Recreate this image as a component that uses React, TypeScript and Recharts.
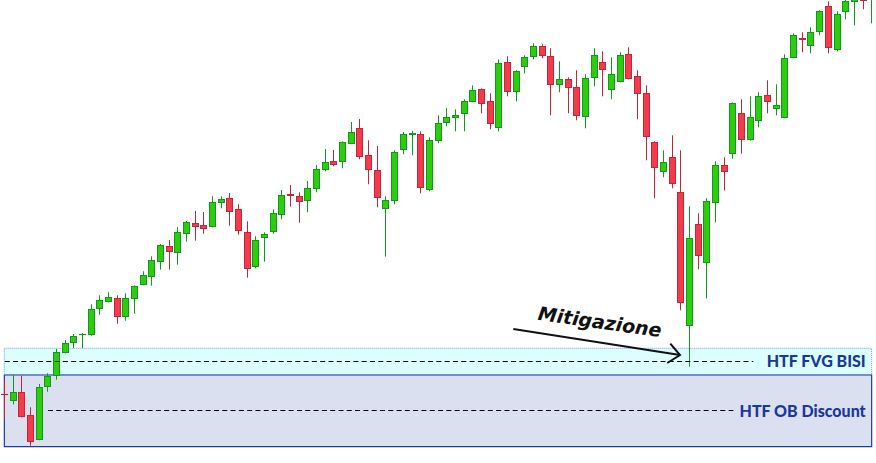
import React from 'react';
import {
  ComposedChart,
  Bar,
  XAxis,
  YAxis,
  ReferenceArea,
  ReferenceLine,
  ReferenceDot,
} from 'recharts';

// Candle values (price units), one entry per candle, left to right
const opens = [
  69, 61.7, 70.7, 47.7, 22.7, 75.7, 86.7, 109.7, 119.7, 128, 128.3, 153.7, 160.7, 164.7, 145.7, 163.7, 177.7, 185.7, 201.3, 216.7,
  210.3, 228.7, 239.7, 237.7, 235.7, 259.7, 264.7, 253.7, 230.7, 195.7, 224.7, 230.7, 247.7, 268.7, 266.7, 261.7, 273.7, 292.7, 301.7, 300.7,
  318.7, 334.7, 307.7, 292.7, 253.7, 261.7, 312.7, 327.7, 328.7, 272.7, 321.7, 339.7, 344.7, 348.7, 360.7, 373.7, 361.7, 334.7, 400.7, 370.7,
  395.7, 405.7, 416.7, 406.7, 377.7, 383.7, 375.7, 345.7, 384.7, 400.7, 372.7, 380.7, 408.7, 386.7, 369.7, 320.7, 290.7, 305.7, 270.7, 136.7,
  238.7, 199.7, 259.7, 297.7, 309.5, 349.7, 323.3, 341.7, 367.7, 353.7, 344.7, 404.7, 424.7, 416.7, 430.7, 456.7, 412.7, 450.7, 460.7, 467,
  466,
];
const highs = [
  83, 88, 87.3, 55.7, 79, 89.7, 114, 123, 129, 130, 158.7, 167.7, 170.7, 167.7, 169.7, 177.7, 191.7, 206.7, 219, 223,
  236, 242, 252, 251, 266.7, 266.7, 270, 258.7, 241.7, 226.7, 230.7, 253.7, 273, 278, 270.7, 282, 298, 314, 313, 321.7,
  341, 344, 322.7, 317, 266.7, 312.7, 331, 332, 331.7, 325.7, 347.7, 354.7, 353.7, 363.7, 377.7, 374.7, 369.7, 403.7, 406.7, 392.7,
  407.7, 419.7, 418.7, 414.7, 401.7, 385.7, 392.7, 388.7, 414.7, 411.7, 405.7, 410.7, 415.7, 392.7, 377.7, 321.7, 312.7, 327.7, 312.7, 256.7,
  249.7, 264.7, 301.7, 305.7, 360.5, 363.7, 366.7, 370.7, 382.7, 378.7, 408.7, 429.7, 430.7, 435.7, 452.7, 461.7, 451.7, 465, 471, 471,
  481,
];
const lows = [
  44, 58.7, 45.7, 17.3, 22.7, 71.3, 83.3, 109.7, 115, 115, 127.3, 148.3, 160.7, 139.3, 142.3, 149.3, 177.7, 177.3, 193.3, 193.3,
  198.3, 221.3, 222.3, 229.3, 235.7, 254.7, 237.3, 228.3, 185.3, 194.7, 201.3, 229.3, 243.7, 256.3, 240.3, 250.7, 270.7, 291.7, 296.7, 294.7,
  318.7, 303.7, 278.7, 255.7, 206.3, 258.7, 308.7, 307.7, 269.7, 271.7, 319.7, 336.7, 331.7, 331.7, 360.7, 349.7, 333.7, 331.7, 366.7, 361.7,
  389.7, 403.7, 404.7, 347.7, 370.7, 349.7, 342.7, 334.7, 376.7, 366.7, 363.7, 380.7, 383.7, 343.7, 302.7, 264.7, 285.7, 274.7, 152.7, 96.3,
  193.7, 164.7, 240.7, 272.5, 304.3, 309.3, 322.3, 335.7, 349.7, 347.7, 344.7, 404.7, 410.7, 409.7, 427.7, 409.7, 411.7, 443.7, 437.7, 453.7,
  439.7,
];
const closes = [
  68, 70.7, 45.7, 20.7, 75.7, 87.3, 110.7, 119.7, 126.7, 128.7, 153.7, 162.7, 165.7, 145.7, 164.7, 176.7, 187.7, 202.7, 217.7, 211.3,
  230.7, 240.7, 236.3, 234.3, 260.7, 263.7, 250.7, 231.7, 193.7, 222.7, 228.7, 249.7, 267.7, 266.7, 260.7, 274.7, 293.7, 300.7, 297.7, 320.7,
  330.7, 305.7, 292.7, 264.7, 262.7, 310.7, 328.7, 329.7, 274.7, 322.7, 339.7, 345.7, 347.7, 361.7, 372.7, 358.7, 338.7, 399.7, 370.7, 391.7,
  405.7, 416.7, 406.7, 377.7, 383.7, 374.7, 346.7, 384.7, 407.7, 392.7, 388.7, 407.7, 383.7, 368.7, 325.7, 294.7, 300.7, 278.7, 159.7, 224.7,
  206.7, 261.7, 297.7, 290.7, 359.7, 322.7, 345.7, 366.7, 360.7, 357.7, 404.7, 427.7, 422.7, 430.7, 451.7, 414.7, 448.7, 461.7, 468, 462.2,
  478,
];

// Zones (price levels) and annotation anchors (candle index, price)
const fvgZone = { from: 0, to: 100, low: 88, high: 114.7, mid: 101.5, lineStart: 0.05, lineEnd: 86.35 };
const obZone = { from: 0, to: 100, low: 16.3, high: 88, mid: 52.5, lineStart: 5.03, lineEnd: 84.05 };
const fvgLabel = 'HTF FVG BISI';
const obLabel = 'HTF OB Discount';
const noteText = 'Mitigazione';
const noteAnchor = { x: 68.55, y: 134.5 };
const arrowStart = { x: 58.68, y: 134 };
const arrowEnd = { x: 77.9, y: 108 };

const data = opens.map((o, i) => ({ i, open: o, high: highs[i], low: lows[i], close: closes[i] }));

const UP_FILL = '#2dcc0c';
const UP_LINE = '#0f9a1e';
const DN_FILL = '#f33b4b';
const DN_LINE = '#c0283a';

const Candle = (props: any) => {
  const { x, y, width, height, payload } = props;
  if (payload == null || x == null) return null;
  const { open, close, high, low } = payload;
  const top = Math.min(y, y + height);
  const bot = Math.max(y, y + height);
  const span = high - low;
  const toY = (v: number) => (span === 0 ? top : top + ((high - v) / span) * (bot - top));
  const up = close >= open;
  const cx = Math.floor(x + width / 2) + 0.5;
  const line = up ? UP_LINE : DN_LINE;
  const fill = up ? UP_FILL : DN_FILL;
  const bTop = Math.round(Math.min(toY(open), toY(close)));
  const bBot = Math.round(Math.max(toY(open), toY(close)));
  return (
    <g>
      <line x1={cx} x2={cx} y1={toY(high)} y2={toY(low)} stroke={line} strokeWidth={1} />
      {bBot - bTop < 2 ? (
        <line x1={cx - 3.5} x2={cx + 3.5} y1={bTop + 0.5} y2={bTop + 0.5} stroke={line} strokeWidth={1.2} />
      ) : (
        <rect x={cx - 3} y={bTop + 0.5} width={6} height={bBot - bTop - 1} fill={fill} stroke={line} strokeWidth={1} />
      )}
    </g>
  );
};

const Arrow = (props: any) => {
  const { x1, y1, x2, y2 } = props;
  const ang = Math.atan2(y2 - y1, x2 - x1);
  const len = 15;
  const spread = (41 * Math.PI) / 180;
  const ax = x2 - len * Math.cos(ang - spread);
  const ay = y2 - len * Math.sin(ang - spread);
  const bx = x2 - len * Math.cos(ang + spread);
  const by = y2 - len * Math.sin(ang + spread);
  return (
    <g>
      <line x1={x1} y1={y1} x2={x2} y2={y2} stroke="#111" strokeWidth={2} />
      <polyline points={`${ax},${ay} ${x2},${y2} ${bx},${by}`} fill="none" stroke="#111" strokeWidth={2} />
    </g>
  );
};

const Note = (props: any) => {
  const { cx, cy } = props;
  return (
    <text
      x={cx}
      y={cy}
      textAnchor="middle"
      transform={`rotate(8 ${cx} ${cy})`}
      fontFamily="DejaVu Sans"
      fontWeight={700}
      fontStyle="italic"
      fontSize={19}
      fill="#111"
    >
      {noteText}
    </text>
  );
};

const labelStyle = {
  position: 'insideRight' as const,
  offset: 6,
  fill: '#1a3899',
  fontSize: 16,
  fontWeight: 900,
  fontFamily: 'Lato',
};

export default function App() {
  return (
    <div style={{ position: 'absolute', left: 0, top: 0, width: 876, height: 463, background: '#fff' }}>
      <ComposedChart width={876} height={463} data={data} margin={{ top: 0, right: 0, bottom: 0, left: 0 }}>
        <XAxis dataKey="i" type="category" hide />
        <XAxis xAxisId="num" dataKey="i" type="number" domain={[-0.5, 100.5]} allowDataOverflow hide />
        <YAxis type="number" domain={[0, 463]} allowDataOverflow hide />
        <ReferenceArea
          xAxisId="num"
          x1={fvgZone.from}
          x2={fvgZone.to}
          y1={fvgZone.low}
          y2={fvgZone.high}
          fill="#dcfefe"
          fillOpacity={1}
          stroke="#6f9ddc"
          strokeWidth={1}
          strokeDasharray="1 1"
          label={{ value: fvgLabel, ...labelStyle }}
        />
        <ReferenceArea
          xAxisId="num"
          x1={obZone.from}
          x2={obZone.to}
          y1={obZone.low}
          y2={obZone.high}
          fill="#dbe0f0"
          fillOpacity={1}
          stroke="#1d3c9e"
          strokeWidth={1.2}
          label={{ value: obLabel, ...labelStyle }}
        />
        <ReferenceLine
          xAxisId="num"
          segment={[
            { x: fvgZone.lineStart, y: fvgZone.mid },
            { x: fvgZone.lineEnd, y: fvgZone.mid },
          ]}
          stroke="#000"
          strokeWidth={1}
          strokeDasharray="5 3.3"
        />
        <ReferenceLine
          xAxisId="num"
          segment={[
            { x: obZone.lineStart, y: obZone.mid },
            { x: obZone.lineEnd, y: obZone.mid },
          ]}
          stroke="#000"
          strokeWidth={1}
          strokeDasharray="5 3.3"
        />
        <Bar dataKey={(d: any) => [d.low, d.high]} shape={Candle} isAnimationActive={false} />
        <ReferenceLine
          xAxisId="num"
          segment={[arrowStart, arrowEnd]}
          shape={Arrow}
        />
        <ReferenceDot xAxisId="num" x={noteAnchor.x} y={noteAnchor.y} r={0} shape={Note} />
      </ComposedChart>
    </div>
  );
}
